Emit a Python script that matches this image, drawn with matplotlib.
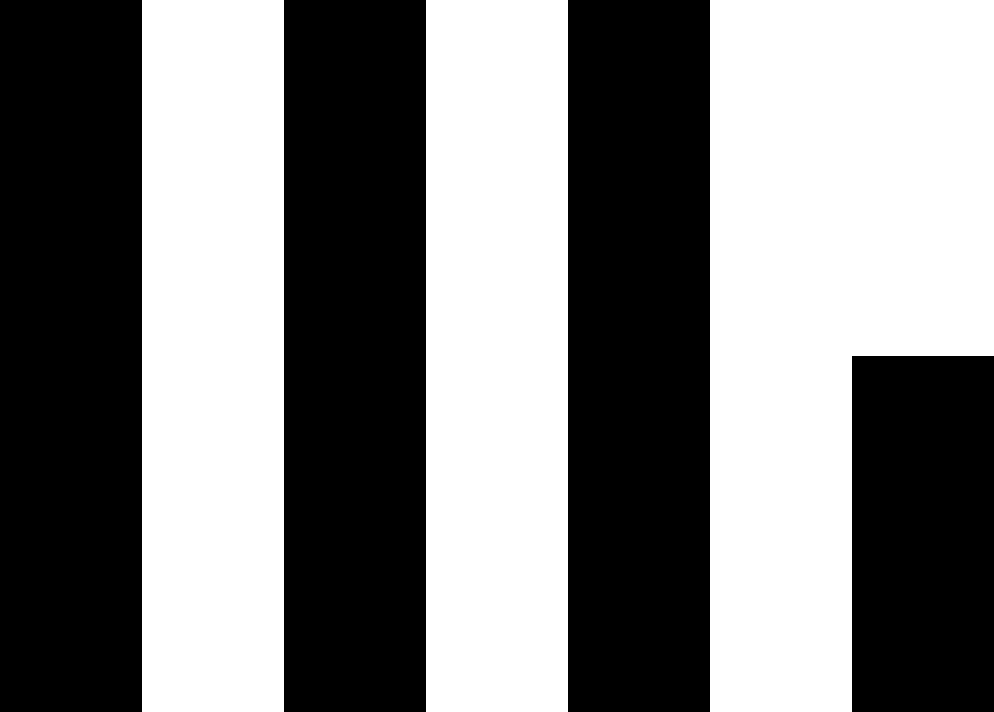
import matplotlib
matplotlib.use("Agg")
import matplotlib.pyplot as plt

# bar slots (every other slot holds a bar) and heights
positions = [0, 2, 4, 6]
heights = [1.0, 1.0, 1.0, 0.5]


def main():
    fig = plt.figure(figsize=(9.94, 7.12), dpi=100)
    ax = fig.add_axes([0, 0, 1, 1])
    ax.bar(positions, heights, width=1.0, color="black", linewidth=0)
    ax.set_xlim(-0.5, 6.5)
    ax.set_ylim(0, 1)
    ax.axis("off")
    fig.savefig("out.png", dpi=100, facecolor="white")


if __name__ == "__main__":
    main()
